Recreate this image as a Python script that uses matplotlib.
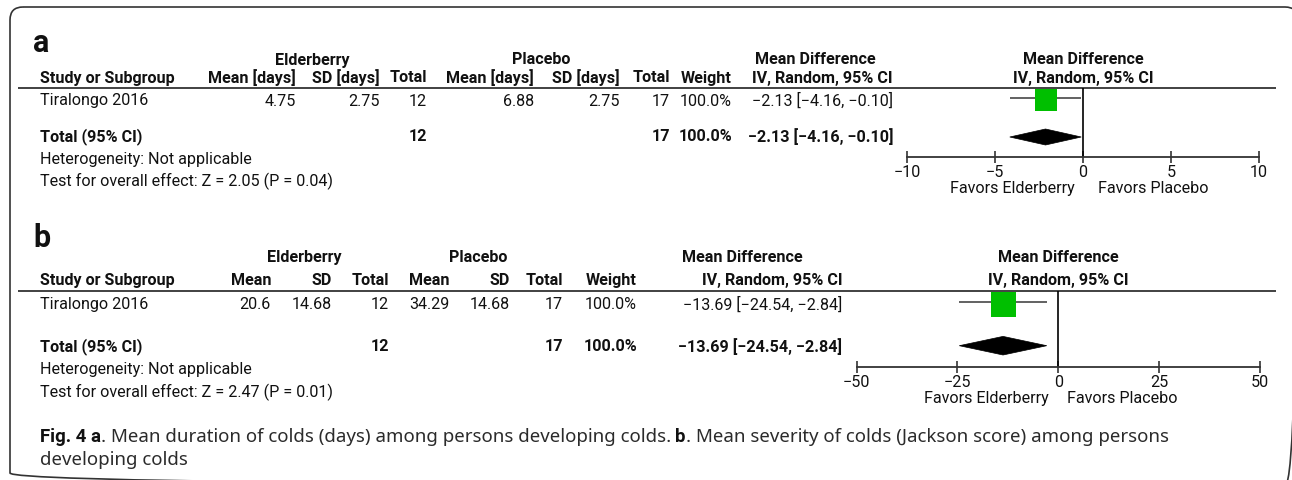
import matplotlib
matplotlib.use("Agg")
import matplotlib.pyplot as plt
from matplotlib.patches import FancyBboxPatch, Polygon

W, H = 1292, 481

# ---- data -------------------------------------------------------------
study = "Tiralongo 2016"

# panel a: duration of colds (days)
a_elder = [4.75, 2.75, 12]      # mean, SD, total
a_placebo = [6.88, 2.75, 17]
a_weight = 100.0
a_md = [-2.13, -4.16, -0.10]    # estimate, lower, upper
a_z, a_p = 2.05, 0.04
a_ticks = [-10, -5, 0, 5, 10]

# panel b: severity of colds (Jackson score)
b_elder = [20.6, 14.68, 12]
b_placebo = [34.29, 14.68, 17]
b_weight = 100.0
b_md = [-13.69, -24.54, -2.84]
b_z, b_p = 2.47, 0.01
b_ticks = [-50, -25, 0, 25, 50]

# ---- styling ----------------------------------------------------------
plt.rcParams["font.family"] = ["Roboto", "DejaVu Sans"]
FS = 11.6
INK = "#111111"
GREEN = "#00bf00"

fig = plt.figure(figsize=(W / 100, H / 100), dpi=100)
bg = fig.add_axes([0, 0, 1, 1])
bg.set_xlim(0, W)
bg.set_ylim(H, 0)
bg.axis("off")

# outer rounded frame
frame = FancyBboxPatch((10, 8), 1288, 479, boxstyle="round,pad=0,rounding_size=13",
                       fill=False, ec="#333333", lw=1.2, clip_on=False)
bg.add_patch(frame)


def txt(x, y, s, ha="left", bold=False, size=FS, **kw):
    return bg.text(x, y, s, ha=ha, va="center", fontsize=size,
                   fontweight="bold" if bold else "normal", color=INK, **kw)


def fmt(v):
    return f"{v:g}"


def ci_text(md):
    return f"{md[0]:.2f} [{md[1]:.2f}, {md[2]:.2f}]".replace("-", "\u2212")


def panel(label, rows, cols, groups, heads, elder, placebo, weight, md, z, p,
          ticks, span, sq_size, sq_y, dia_y, dia_h, favors_dx):
    y_lab, y_grp, y_head, y_line, y_study, y_total, y_het, y_test = rows
    txt(33, y_lab, label, bold=True, size=22)

    # group headings and column headings
    txt(groups[0], y_grp, "Elderberry", ha="center", bold=True)
    txt(groups[1], y_grp, "Placebo", ha="center", bold=True)
    txt(groups[2], y_grp, "Mean Difference", ha="center", bold=True)
    txt(40, y_head, "Study or Subgroup", bold=True)
    for x, h in zip(cols, heads):
        txt(x, y_head, h, ha="right", bold=True)

    bg.plot([18, 1276], [y_line, y_line], color="#333333", lw=1.3,
            solid_capstyle="butt")

    # study row
    txt(40, y_study, study)
    vals = [fmt(elder[0]), fmt(elder[1]), f"{elder[2]}",
            fmt(placebo[0]), fmt(placebo[1]), f"{placebo[2]}",
            f"{weight:.1f}%", ci_text(md)]
    for x, v in zip(cols, vals):
        txt(x, y_study, v, ha="right")

    # pooled row
    txt(40, y_total, "Total (95% CI)", bold=True)
    for idx, v in [(2, f"{elder[2]}"), (5, f"{placebo[2]}"),
                   (6, f"{weight:.1f}%"), (7, ci_text(md))]:
        txt(cols[idx], y_total, v, ha="right", bold=True)
    txt(40, y_het, "Heterogeneity: Not applicable")
    txt(40, y_test, f"Test for overall effect: Z = {z:.2f} (P = {p:.2f})")

    # forest plot
    x0, x1, y_top, y_axis = span
    ax = fig.add_axes([x0 / W, 1 - y_axis / H, (x1 - x0) / W, (y_axis - y_top) / H])
    ax.set_xlim(ticks[0], ticks[-1])
    ax.set_ylim(y_axis, y_top)
    ax.patch.set_visible(False)
    for s in ("top", "left", "right"):
        ax.spines[s].set_visible(False)
    ax.spines["bottom"].set_color("#333333")
    ax.spines["bottom"].set_linewidth(1.3)
    ax.set_yticks([])
    ax.set_xticks(ticks)
    ax.set_xticklabels([f"{t}".replace("-", "\u2212") for t in ticks])
    ax.tick_params(axis="x", direction="inout", length=8, width=1.2,
                   color="#333333", pad=1, labelsize=FS, labelcolor=INK)

    ax.axvline(0, color="black", lw=1.2)
    ax.plot([md[1], md[2]], [sq_y - 1.5, sq_y - 1.5], color="#555555", lw=1.3,
            solid_capstyle="butt")
    ax.plot([md[0]], [sq_y], marker="s", ms=sq_size, color=GREEN, mew=0)
    ax.add_patch(Polygon([(md[1], dia_y), (md[0], dia_y - dia_h),
                          (md[2], dia_y), (md[0], dia_y + dia_h)],
                         closed=True, fc="black", ec="black", lw=0.5))

    txt((x0 + x1) / 2, y_grp, "Mean Difference", ha="center", bold=True)
    txt((x0 + x1) / 2, y_head, "IV, Random, 95% CI", ha="center", bold=True)

    ax.annotate("Favors Elderberry", xy=(0, 0), xycoords=("data", "axes fraction"),
                xytext=(-favors_dx[0], -22), textcoords="offset points",
                ha="right", va="center", fontsize=FS, color=INK)
    ax.annotate("Favors Placebo", xy=(0, 0), xycoords=("data", "axes fraction"),
                xytext=(favors_dx[1], -22), textcoords="offset points",
                ha="left", va="center", fontsize=FS, color=INK)


panel("a", rows=[43, 60, 78, 89, 101, 137, 160, 181],
      cols=[296, 380, 427, 534, 620, 670, 732, 893],
      groups=[312, 541, 815],
      heads=["Mean [days]", "SD [days]", "Total", "Mean [days]", "SD [days]",
             "Total", "Weight", "IV, Random, 95% CI"],
      elder=a_elder, placebo=a_placebo, weight=a_weight, md=a_md, z=a_z, p=a_p,
      ticks=a_ticks, span=(907, 1259, 89, 158), sq_size=16, sq_y=100.5,
      dia_y=138, dia_h=8, favors_dx=(6, 11))

panel("b", rows=[238, 258, 281, 292, 305, 347, 370, 392],
      cols=[271, 332, 389, 450, 510, 563, 637, 842],
      groups=[304, 478, 742],
      heads=["Mean", "SD", "Total", "Mean", "SD", "Total", "Weight",
             "IV, Random, 95% CI"],
      elder=b_elder, placebo=b_placebo, weight=b_weight, md=b_md, z=b_z, p=b_p,
      ticks=b_ticks, span=(856.7, 1259.7, 292, 368), sq_size=18, sq_y=304.5,
      dia_y=346.7, dia_h=9.3, favors_dx=(6.5, 6.5))

# ---- caption ----------------------------------------------------------
CAP_INK = "#2b2b2b"
CAP_WIDTH = 1125          # width of the first caption line in pixels
renderer = fig.canvas.get_renderer()


def cap_run(x, y, pieces, size):
    texts = []
    for s, bold, gap in pieces:
        if bold:
            style = dict(family=["Roboto", "DejaVu Sans"], fontweight="bold",
                         color="#111111")
        else:
            style = dict(family=["Noto Sans", "DejaVu Sans"], fontweight="normal",
                         fontstretch="condensed", color=CAP_INK)
        t = bg.text(x, y, s, ha="left", va="center", fontsize=size, **style)
        x += t.get_window_extent(renderer).width + gap
        texts.append(t)
    return texts, x


line1 = [("Fig. 4 a", True, 0),
         (". Mean duration of colds (days) among persons developing colds.", False, 4),
         ("b", True, 0),
         (". Mean severity of colds (Jackson score) among persons", False, 0)]
probe, x_end = cap_run(40, 437, line1, 12)
for t in probe:
    t.remove()
cap_size = 12 * CAP_WIDTH / (x_end - 40)
cap_run(40, 437, line1, cap_size)
cap_run(40, 460, [("developing colds", False, 0)], cap_size)

fig.savefig("out.png", dpi=100)
